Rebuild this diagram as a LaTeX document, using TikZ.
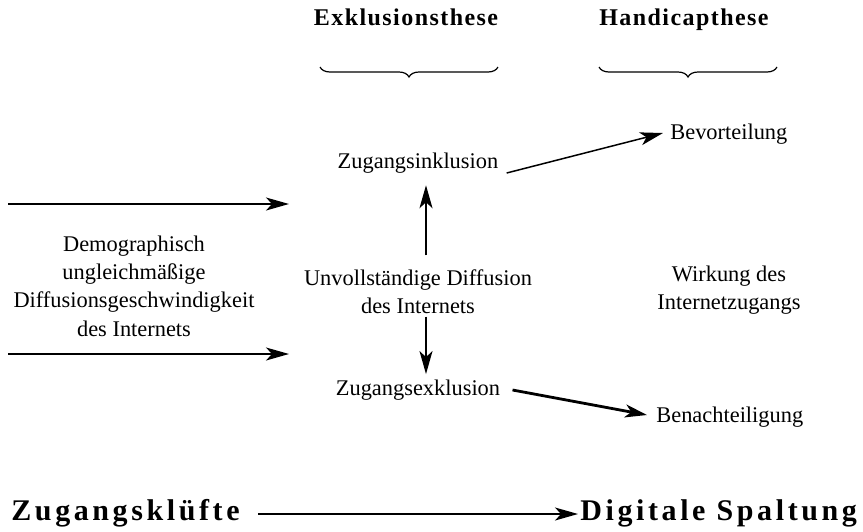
\documentclass[tikz,border=0pt]{standalone}
\usepackage{fontspec}
\setmainfont{Liberation Serif}
\newfontfamily\headspaced[LetterSpace=6]{Liberation Serif}
\newfontfamily\bigspaced[LetterSpace=12]{Liberation Serif}
\usetikzlibrary{arrows.meta, calc, positioning, decorations.pathreplacing}
\tikzset{
    txt/.style={inner sep=0pt, align=center, font=\fontsize{11.2}{14.2}\selectfont},
    head/.style={inner sep=0pt, font=\headspaced\bfseries\fontsize{12}{14}\selectfont},
    big/.style={inner sep=0pt, font=\bigspaced\bfseries\fontsize{15}{17}\selectfont},
    thinarrow/.style={line width=0.75pt, -{Stealth[length=11.5pt,width=6.5pt,inset=3pt]}},
    thickarrow/.style={line width=1.4pt, -{Stealth[length=11pt,width=6.5pt,inset=3pt]}},
    ubrace/.style={line width=0.6pt, decorate, decoration={brace, mirror, amplitude=5pt}}
}

\begin{document}
\begin{tikzpicture}[x=0.5pt, y=-0.5pt, >=Stealth]
    \useasboundingbox (0,0) rectangle (863,531);

    % Thesen
    \node[head, anchor=base] (exkl) at (406,25) {Exklusionsthese};
    \node[head, anchor=base] (hand) at (684,25) {Handicapthese};
    \draw[ubrace] (320,67) -- (498,67);
    \draw[ubrace] (599,67) -- (777,67);

    % Diffusion
    \node[txt] (demo) at (134,286) {Demographisch\\ungleichmäßige\\Diffusionsgeschwindigkeit\\des Internets};
    \coordinate (l1) at (8,204);
    \coordinate (r1) at (289,204);
    \coordinate (l2) at (8,354);
    \coordinate (r2) at (289,354);
    \draw[thinarrow] (l1) -- (r1);
    \draw[thinarrow] (l2) -- (r2);

    % Zugang
    \node[txt] (diff) at (418,292) {Unvollständige Diffusion\\des Internets};
    \node[txt, anchor=base] (inkl) at (418,168) {Zugangsinklusion};
    \node[txt, anchor=base] (exklu) at (418,395) {Zugangsexklusion};
    \draw[thinarrow] ($(diff.north)+(8,-14)$) -- ($(inkl.south)+(8,12)$);
    \draw[thinarrow] ($(diff.south)+(8,2)$) -- ($(exklu.north)+(8,-5)$);

    % Wirkung
    \node[txt] (wirk) at (729,290) {Wirkung des\\Internetzugangs};
    \node[txt, anchor=base west] (bevor) at (670,139) {Bevorteilung};
    \node[txt, anchor=base west] (benach) at (656,422) {Benachteiligung};
    \draw[thinarrow] ($(inkl.base east)+(8,5)$) -- ($(bevor.base west)+(-7,-6)$);
    \draw[thickarrow] ($(exklu.base east)+(12,-5)$) -- ($(benach.base west)+(-9,-7)$);

    % Zugangsklüfte -> Spaltung
    \node[big, anchor=base west] (kluft) at (11,520) {Zugangsklüfte};
    \node[big, anchor=base west] (spalt) at (580,520) {Digitale Spaltung};
    \draw[thinarrow] ($(kluft.base east)+(18,-6)$) -- ($(spalt.base west)+(-2,-6)$);
\end{tikzpicture}
\end{document}
